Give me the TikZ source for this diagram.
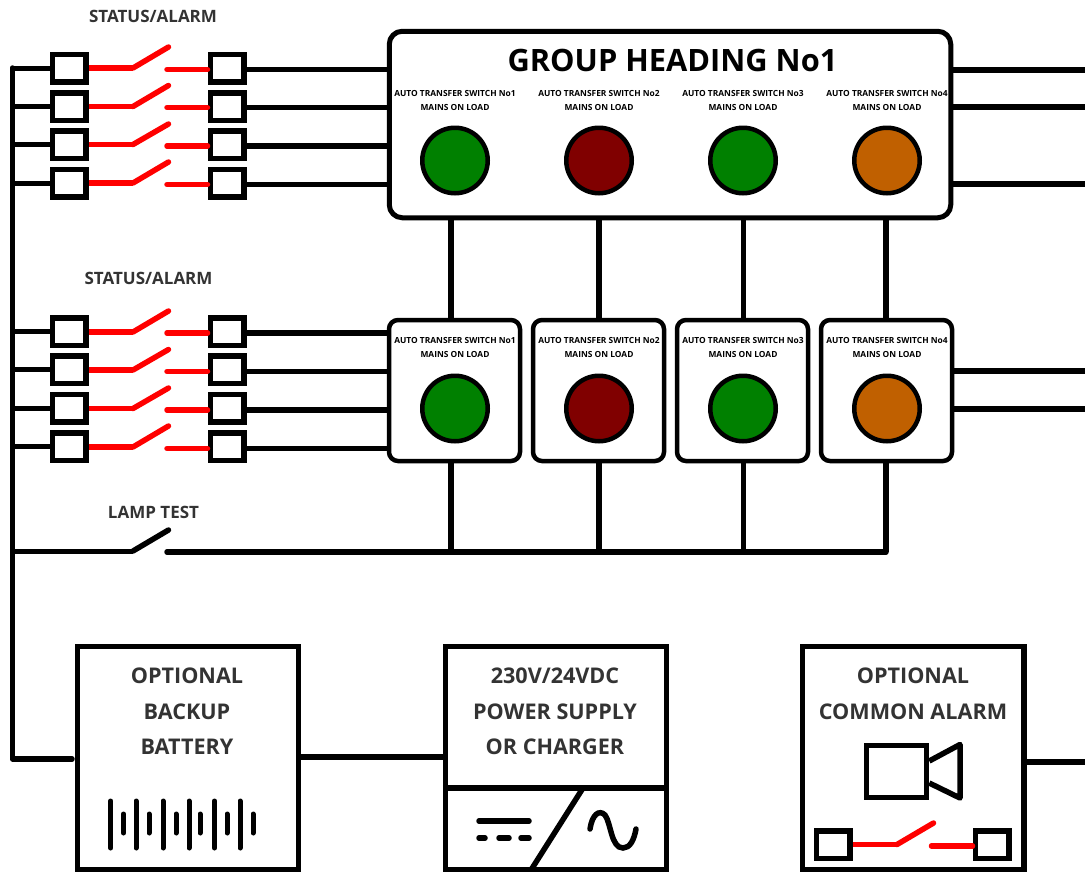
\documentclass[tikz,border=0pt]{standalone}
\usepackage{fontspec}
\setmainfont{Open Sans}
\usetikzlibrary{calc}
\definecolor{txt}{HTML}{333333}
\definecolor{lampgreen}{HTML}{008000}
\definecolor{lampred}{HTML}{800000}
\definecolor{lamporange}{HTML}{C06000}
\tikzset{
  wire/.style={line width=5.5pt,line cap=round,line join=round},
  redwire/.style={wire,red},
  term/.style={draw,line width=5.5pt,fill=white,minimum width=33.5pt,minimum height=27.5pt,inner sep=0pt,line join=miter},
  panel/.style={draw,line width=5pt,fill=white,rounded corners=13pt,inner sep=0pt},
  cell/.style={draw,line width=4.5pt,fill=white,rounded corners=9pt,minimum width=131pt,minimum height=141pt,inner sep=0pt},
  block/.style={draw,line width=5.5pt,fill=white,inner sep=0pt,minimum height=223pt,line join=miter},
  lamp/.style={circle,draw,line width=4.5pt,minimum size=65.5pt,inner sep=0pt},
  small/.style={inner sep=0pt,font=\fontsize{8.4}{10}\selectfont\bfseries,text=black},
  title/.style={inner sep=0pt,font=\fontsize{17}{19}\selectfont\bfseries,text=txt},
  big/.style={inner sep=0pt,font=\fontsize{21.6}{24}\selectfont\bfseries,text=txt},
  glyph/.style={line width=5pt,line cap=round}
}
\begin{document}
\begin{tikzpicture}[x=1pt,y=-1pt]
\useasboundingbox (0,0) rectangle (1085,873);
\fill[white] (0,0) rectangle (1085,873);

% bus
\coordinate (BT) at (12.5,68);
\coordinate (BB) at (12.5,759);

% panels
\node[panel,minimum width=561.5pt,minimum height=186.5pt] (G) at (670,124.5) {};
\foreach \n/\x in {1/454.5,2/598.5,3/742.5,4/886.5}
  \node[cell] (C\n) at (\x,390.5) {};

% terminals
\foreach \n/\y in {1/68,2/106.5,3/144.5,4/183,5/331.5,6/369.5,7/408,8/446.5}{
  \node[term] (TL\n) at (69,\y) {};
  \node[term] (TR\n) at (227,\y) {};
  \draw[wire,line width=5pt] (TL\n.west) -- (BT |- TL\n.west);
}
% switches
\foreach \n/\yl/\yr/\tip in {1/68/69.5/47,2/106.5/107.5/85.5,3/144.5/146/124,4/183/184.5/162,5/332/333/311,6/370/371.5/349.5,7/408.5/410/388,8/447/448.5/426}{
  \coordinate (K\n) at (133,\yl);
  \coordinate (H\n) at (168.5,\tip);
  \coordinate (O\n) at (167,\yr);
  \draw[redwire,line cap=butt] (TL\n.east |- K\n) -- (K\n);
  \draw[redwire] (K\n) -- (H\n);
  \draw[redwire] (O\n) -- (TR\n.west |- O\n);
}
% right terminals to panels
\foreach \n in {1,2,3,4}
  \draw[wire,line cap=butt] (TR\n.east |- O\n) -- (G.west |- O\n);
\draw[wire,line cap=butt] (TR5.east |- O5) -- (C1.west |- O5);
\draw[wire,line cap=butt] (TR6.east |- O6) -- (C1.west |- O6);
\draw[wire,line cap=butt] (TR7.east |- O7) -- (C1.west |- O7);
\draw[wire,line cap=butt] (TR8.east |- O8) -- (C1.west |- O8);

% outgoing stubs
\foreach \n/\y in {a/70,b/107,c/184}{
  \coordinate (S\n) at (1085,\y);
  \draw[wire,line cap=butt] (G.east |- S\n) -- (S\n);
}
\foreach \n/\y in {d/371,e/409}{
  \coordinate (S\n) at (1085,\y);
  \draw[wire,line cap=butt] (C4.east |- S\n) -- (S\n);
}

% lamp test
\coordinate (LK) at (133,551);
\coordinate (LH) at (168.5,530);
\coordinate (LO) at (167,552);
\coordinate (LE) at (886,552);
\draw[wire,line width=5pt,line cap=butt] (BT |- LK) -- (LK);
\draw[wire] (LK) -- (LH);
\draw[wire] (LO) -- (LE);

% verticals
\foreach \n/\x in {1/451,2/599,3/743.5,4/886}{
  \coordinate (V\n) at (\x,552);
  \draw[wire,line cap=butt] (G.south -| V\n) -- (C\n.north -| V\n);
  \draw[wire,line cap=butt] (C\n.south -| V\n) -- (V\n);
}

% lamps
\foreach \n/\x/\c in {1/455/lampgreen,2/599/lampred,3/743/lampgreen,4/887/lamporange}{
  \node[lamp,fill=\c] (LA\n) at (\x,160.5) {};
  \node[lamp,fill=\c] (LB\n) at (\x,408.5) {};
  \node[small] (TA\n) at (\x,93) {AUTO TRANSFER SWITCH No\n};
  \node[small] (MA\n) at (\x,107) {MAINS ON LOAD};
  \node[small] (TB\n) at (\x,340) {AUTO TRANSFER SWITCH No\n};
  \node[small] (MB\n) at (\x,354) {MAINS ON LOAD};
}
\node[inner sep=0pt,font=\fontsize{30.8}{32}\selectfont\bfseries,text=black] (H) at (672.5,60.5) {GROUP HEADING No1};

\node[title] (SA1) at (153,16.5) {STATUS/ALARM};
\node[title] (SA2) at (148.5,278.5) {STATUS/ALARM};
\node[title] (LT) at (153.5,512.5) {LAMP TEST};

% bottom blocks
\node[block,minimum width=221pt] (BAT) at (188,758) {};
\node[block,minimum width=221pt] (PSU) at (556,758) {};
\node[block,minimum width=221.5pt] (ALM) at (913,758) {};

\coordinate (BE) at (72,759);
\draw[wire] (BT) -- (BB) -- (BE);
\coordinate (BP) at (372,757);
\draw[wire,line cap=butt] (BAT.east |- BP) -- (PSU.west |- BP);
\coordinate (SF) at (1085,762);
\draw[wire,line cap=butt] (ALM.east |- SF) -- (SF);

\node[big] (B1) at (187,676) {OPTIONAL};
\node[big] (B2) at (187,711.5) {BACKUP};
\node[big] (B3) at (187,746.5) {BATTERY};
\node[big] (P1) at (555,676) {230V/24VDC};
\node[big] (P2) at (555,711.5) {POWER SUPPLY};
\node[big] (P3) at (555,746.5) {OR CHARGER};
\node[big] (A1) at (913,676) {OPTIONAL};
\node[big] (A2) at (913,711.5) {COMMON ALARM};

% battery glyph
\foreach \x in {110.7,136,163,189,214.5,240}
  \draw[glyph] (\x,801) -- (\x,848);
\foreach \x in {123.5,149,176,200,227,253}
  \draw[glyph] (\x,814) -- (\x,833);

% converter glyph
\coordinate (D1) at (583,788);
\coordinate (D2) at (531,870);
\draw[wire,line cap=butt] (PSU.west |- D1) -- (PSU.east |- D1);
\draw[wire,line cap=butt] (D1) -- (D2);
\draw[glyph,line width=5.5pt] (479,821) -- (529,821);
\draw[glyph,line width=5.5pt] (479,838) -- (485,838);
\draw[glyph,line width=5.5pt] (499,838) -- (509,838);
\draw[glyph,line width=5.5pt] (521,838) -- (529,838);
\draw[glyph,line width=5.5pt] (590,829) .. controls (592,815) and (599,809) .. (605,815)
  .. controls (611,823) and (611,848) .. (623,848)
  .. controls (630,848) and (634,840) .. (636,829);

% speaker glyph
\node[term,minimum width=60pt,minimum height=52pt,fill=none] (SPK) at (896.5,771.5) {};
\coordinate (H1) at (960,744.5);
\coordinate (H2) at (960,798);
\draw[wire,line join=round,line cap=butt] (SPK.east |- 0,761) -- (H1) -- (H2) -- (SPK.east |- 0,783);

% alarm contact
\node[term] (TA) at (833,844.5) {};
\node[term] (TB) at (992,844.5) {};
\coordinate (AK) at (897,844.5);
\coordinate (AH) at (933.5,823);
\coordinate (AO) at (931.5,846);
\draw[redwire,line cap=butt] (TA.east) -- (AK);
\draw[redwire] (AK) -- (AH);
\draw[redwire] (AO) -- (TB.west |- AO);
\end{tikzpicture}
\end{document}
